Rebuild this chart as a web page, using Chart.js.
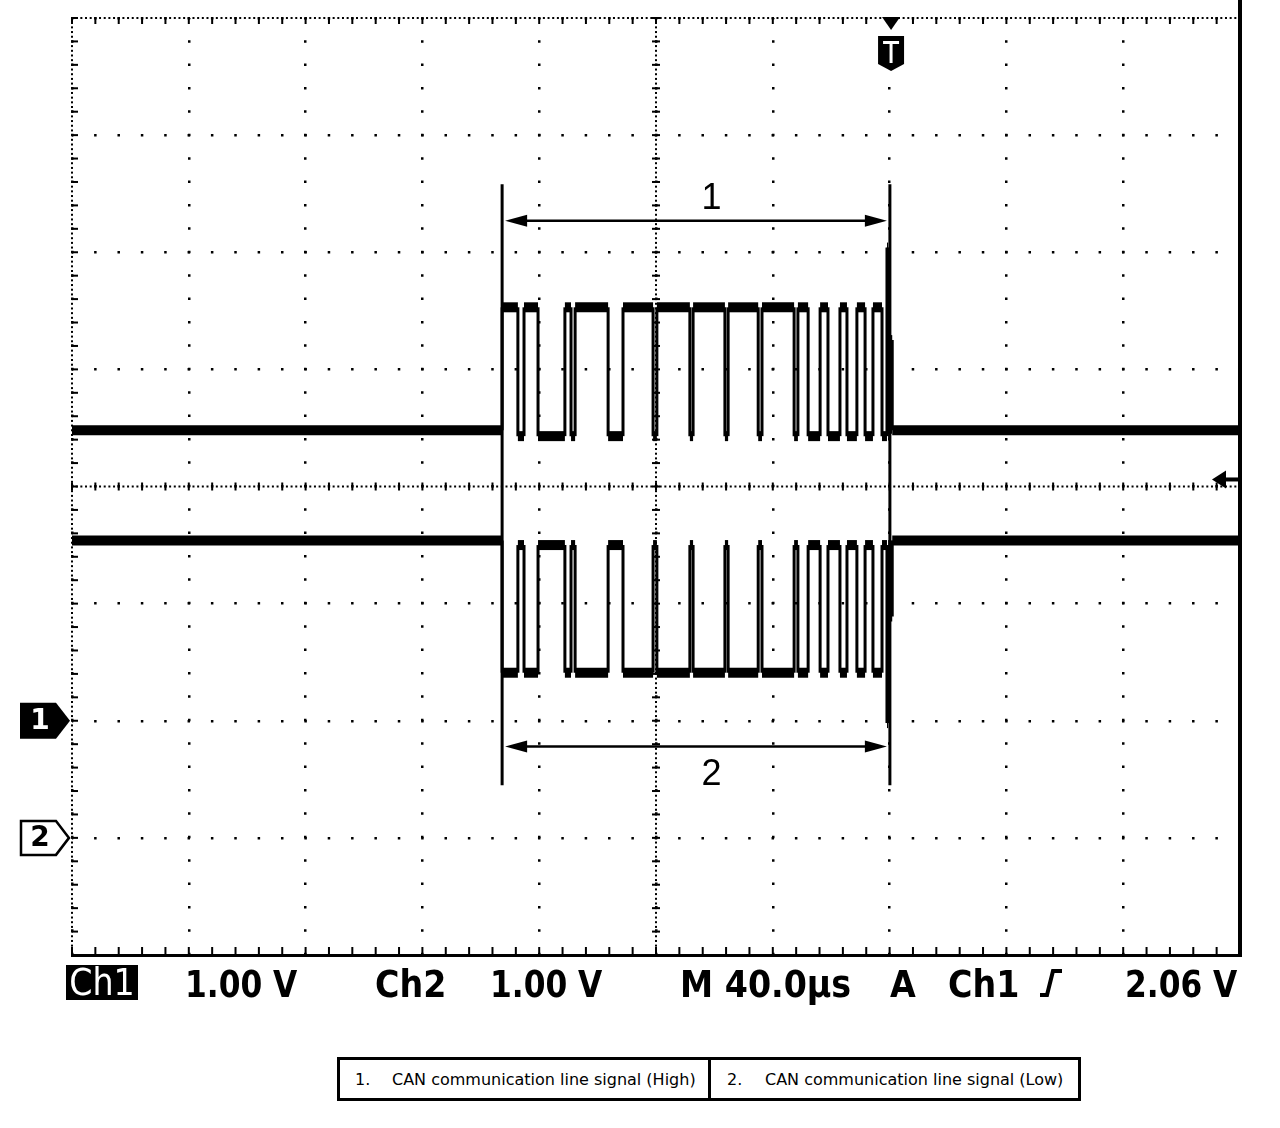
<!DOCTYPE html>
<html>
<head>
<meta charset="utf-8">
<script src="https://cdn.jsdelivr.net/npm/chart.js@4.4.1/dist/chart.umd.min.js"></script>
<style>
  body { margin: 0; background: #fff; width: 1280px; height: 1128px; position: relative; overflow: hidden; }
  #scope { position: absolute; left: 0; top: 0; }
  .st { position: absolute; top: 966px; font-family: 'DejaVu Sans Condensed', 'DejaVu Sans', sans-serif; font-stretch: condensed;
        font-weight: bold; font-size: 37px; line-height: 37px; color: #000; white-space: pre; }
  .nar { transform: scaleX(0.94); transform-origin: left center; }
  .inv { left: 66px; top: 965px; width: 72px; height: 35px; line-height: 35px; text-align: center; background: #000; color: #fff; font-weight: normal; }
  #slope { position: absolute; left: 1038px; top: 968px; }
  #legend { position: absolute; left: 337px; top: 1057px; width: 744px; height: 44px; box-sizing: border-box; border: 3px solid #000;
            font-family: 'DejaVu Sans', sans-serif; font-size: 16px; }
  #legend .sep { position: absolute; left: 368px; top: 0; width: 3px; height: 38px; background: #000; }
  #legend span { position: absolute; top: 10px; white-space: pre; }
</style>
</head>
<body>
<canvas id="scope" width="1280" height="962"></canvas>

<div class="st inv">Ch1</div>
<div class="st nar" style="left:185px">1.00 V</div>
<div class="st" style="left:375px">Ch2</div>
<div class="st nar" style="left:490px">1.00 V</div>
<div class="st" style="left:680px">M 40.0µs</div>
<div class="st" style="left:890px">A</div>
<div class="st" style="left:948px">Ch1</div>
<svg id="slope" width="26" height="30"><polyline points="2,27 9,27 15,3 24,3" fill="none" stroke="#000" stroke-width="4"/></svg>
<div class="st nar" style="left:1125px">2.06 V</div>

<div id="legend">
  <span style="left:15px">1.</span><span style="left:52px">CAN communication line signal (High)</span>
  <div class="sep"></div>
  <span style="left:387px">2.</span><span style="left:425px">CAN communication line signal (Low)</span>
</div>

<script>
// Horizontal: 40 us/div, 10 divisions. Vertical: 1 V/div, 8 divisions.
const timeMin = 0;
const timeMax = 400;
const timeStep = 40;
const divMin = -4;
const divMax = 4;

// Ground reference positions of each channel (in divisions from centre)
const ch1Offset = -2;
const ch2Offset = -3;

// Idle (recessive) bus levels in volts
const ch1Idle = 2.48;
const ch2Idle = 2.54;

// Edge times of the CAN frame (us from left of screen)
const edgeTimes = [147.3, 152.7, 154.8, 159.6, 168.8, 170.9, 172.3, 183.6, 188.7, 199.0,
                   200.3, 211.6, 212.7, 223.6, 224.7, 235.0, 236.3, 247.3, 248.6, 252.1,
                   256.2, 258.9, 263.0, 265.4, 268.8, 271.6, 274.3, 277.4, 279.1, 279.5,
                   280.3, 280.9];

// Level (V) after each edge
const canHigh = [3.53, 2.43, 3.53, 2.43, 3.53, 2.43, 3.53, 2.43, 3.53, 2.43,
                 3.53, 2.43, 3.53, 2.43, 3.53, 2.43, 3.53, 2.43, 3.53, 2.43,
                 3.53, 2.43, 3.53, 2.43, 3.53, 2.43, 3.53, 2.43, 4.04, 2.45,
                 3.25, 2.48];
const canLow = [1.41, 2.50, 1.41, 2.50, 1.41, 2.50, 1.41, 2.50, 1.41, 2.50,
                1.41, 2.50, 1.41, 2.50, 1.41, 2.50, 1.41, 2.50, 1.41, 2.50,
                1.41, 2.50, 1.41, 2.50, 1.41, 2.50, 1.41, 2.50, 0.98, 2.50,
                1.89, 2.54];

// Cursors, trigger
const cursorTimes = [147.3, 280.1];
const cursorSpan = [2.58, -2.55];
const arrowLevels = [2.27, -2.22];
const cursorLabels = ['1', '2'];
const labelLevels = [2.45, -2.46];
const labelTime = 219;
const trigTime = 280.5;
const trigVolts = 2.06;

// Build step trace points from edges
function buildTrace(idle, levels, offset) {
    const pts = [{ x: timeMin, y: idle + offset }];
    let prev = idle;
    edgeTimes.forEach((t, i) => {
        pts.push({ x: t, y: prev + offset });
        pts.push({ x: t, y: levels[i] + offset });
        prev = levels[i];
    });
    pts.push({ x: timeMax, y: prev + offset });
    return pts;
}

const traceStyle = {
    borderColor: '#000',
    borderWidth: 10,
    pointRadius: 0,
    fill: false,
    tension: 0,
    borderCapStyle: 'butt',
    segment: {
        borderWidth: c => c.p0.parsed.y === c.p1.parsed.y ? 10 : 3
    }
};

// Scope decorations: fine graticule, frame, cursors, markers
const scopeDecor = {
    id: 'scopeDecor',
    beforeDatasetsDraw(chart) {
        const { ctx, chartArea: a, scales } = chart;
        const cx = scales.x.getPixelForValue(200);
        const cy = scales.y.getPixelForValue(0);
        const minorW = (a.right - a.left) / 50;
        const minorH = (a.bottom - a.top) / 40;
        ctx.save();
        ctx.fillStyle = '#000';
        for (let k = 0; k <= 250; k++) {
            const px = a.left + k * minorW / 5;
            ctx.fillRect(px - 1, cy - 1, 2, 2);
            ctx.fillRect(px - 1, a.top - 1, 2, 2);
        }
        for (let k = 0; k <= 200; k++) {
            const py = a.top + k * minorH / 5;
            ctx.fillRect(cx - 1, py - 1, 2, 2);
            ctx.fillRect(a.left - 1, py - 1, 2, 2);
        }
        for (let k = 0; k <= 50; k++) {
            const px = a.left + k * minorW;
            ctx.fillRect(px - 1, cy - 4, 2, 8);
            ctx.fillRect(px - 1, a.top, 2, 6);
            ctx.fillRect(px - 1, a.bottom - 8, 2, 8);
        }
        for (let k = 0; k <= 40; k++) {
            const py = a.top + k * minorH;
            ctx.fillRect(cx - 4, py - 1, 8, 2);
            ctx.fillRect(a.left, py - 1, 6, 2);
        }
        // solid right + bottom frame
        ctx.fillRect(a.right - 2, 0, 4, a.bottom + 2);
        ctx.fillRect(a.left - 1, a.bottom - 1, a.right - a.left + 2, 3);
        ctx.restore();
    },
    afterDatasetsDraw(chart) {
        const { ctx, scales: { x: sx, y: sy } } = chart;
        ctx.save();
        ctx.strokeStyle = '#000';
        ctx.fillStyle = '#000';

        // cursor lines
        ctx.lineWidth = 3;
        cursorTimes.forEach(t => {
            const px = sx.getPixelForValue(t);
            ctx.beginPath();
            ctx.moveTo(px, sy.getPixelForValue(cursorSpan[0]));
            ctx.lineTo(px, sy.getPixelForValue(cursorSpan[1]));
            ctx.stroke();
        });

        // double arrows with labels
        const x1 = sx.getPixelForValue(cursorTimes[0]) + 3;
        const x2 = sx.getPixelForValue(cursorTimes[1]) - 3;
        arrowLevels.forEach((lv, i) => {
            const py = sy.getPixelForValue(lv);
            ctx.lineWidth = 2.5;
            ctx.beginPath();
            ctx.moveTo(x1 + 10, py);
            ctx.lineTo(x2 - 10, py);
            ctx.stroke();
            ctx.beginPath();
            ctx.moveTo(x1, py); ctx.lineTo(x1 + 22, py - 6); ctx.lineTo(x1 + 22, py + 6);
            ctx.closePath(); ctx.fill();
            ctx.beginPath();
            ctx.moveTo(x2, py); ctx.lineTo(x2 - 22, py - 6); ctx.lineTo(x2 - 22, py + 6);
            ctx.closePath(); ctx.fill();
            ctx.font = '36px "Liberation Sans", sans-serif';
            ctx.textAlign = 'center';
            ctx.textBaseline = 'middle';
            ctx.fillText(cursorLabels[i], sx.getPixelForValue(labelTime), sy.getPixelForValue(labelLevels[i]));
        });

        // trigger position marker (T)
        const tx = sx.getPixelForValue(trigTime);
        ctx.beginPath();
        ctx.moveTo(tx - 9, 17); ctx.lineTo(tx + 9, 17); ctx.lineTo(tx, 30);
        ctx.closePath(); ctx.fill();
        ctx.beginPath();
        ctx.moveTo(tx - 13, 36); ctx.lineTo(tx + 13, 36); ctx.lineTo(tx + 13, 64);
        ctx.lineTo(tx, 71); ctx.lineTo(tx - 13, 64);
        ctx.closePath(); ctx.fill();
        ctx.fillStyle = '#fff';
        ctx.fillRect(tx - 8, 41, 16, 3);
        ctx.fillRect(tx - 1.5, 41, 3, 22);

        // trigger level marker (right)
        ctx.fillStyle = '#000';
        const ty = sy.getPixelForValue(trigVolts + ch1Offset);
        ctx.beginPath();
        ctx.moveTo(1212, ty); ctx.lineTo(1226, ty - 9); ctx.lineTo(1226, ty + 9);
        ctx.closePath(); ctx.fill();
        ctx.fillRect(1224, ty - 2, 16, 4);

        // channel ground markers (left)
        const g1 = sy.getPixelForValue(ch1Offset);
        const g2 = sy.getPixelForValue(ch2Offset);
        ctx.beginPath();
        ctx.moveTo(20, g1 - 18); ctx.lineTo(56, g1 - 18); ctx.lineTo(70, g1);
        ctx.lineTo(56, g1 + 18); ctx.lineTo(20, g1 + 18);
        ctx.closePath(); ctx.fill();
        ctx.fillStyle = '#fff';
        ctx.font = 'bold 28px "DejaVu Sans", sans-serif';
        ctx.textAlign = 'center';
        ctx.textBaseline = 'middle';
        ctx.fillText('1', 40, g1 + 1);

        ctx.fillStyle = '#fff';
        ctx.lineWidth = 2.5;
        ctx.beginPath();
        ctx.moveTo(21, g2 - 17); ctx.lineTo(56, g2 - 17); ctx.lineTo(69, g2);
        ctx.lineTo(56, g2 + 17); ctx.lineTo(21, g2 + 17);
        ctx.closePath(); ctx.fill(); ctx.stroke();
        ctx.fillStyle = '#000';
        ctx.fillText('2', 40, g2 + 1);
        ctx.restore();
    }
};

const chart = new Chart(document.getElementById('scope'), {
    type: 'line',
    data: {
        datasets: [
            Object.assign({ label: 'CAN High', data: buildTrace(ch1Idle, canHigh, ch1Offset) }, traceStyle),
            Object.assign({ label: 'CAN Low', data: buildTrace(ch2Idle, canLow, ch2Offset) }, traceStyle)
        ]
    },
    options: {
        responsive: false,
        animation: false,
        devicePixelRatio: 1,
        parsing: false,
        layout: { padding: { left: 72, top: 18, right: 40, bottom: 7 } },
        plugins: { legend: { display: false }, tooltip: { enabled: false } },
        scales: {
            x: {
                type: 'linear', min: timeMin, max: timeMax,
                ticks: { display: false, stepSize: timeStep },
                grid: { color: '#000', lineWidth: 2.5, drawTicks: false },
                border: { display: false, dash: [2.5, 20.9], dashOffset: 1.25 }
            },
            y: {
                type: 'linear', min: divMin, max: divMax,
                ticks: { display: false, stepSize: 1 },
                grid: { color: '#000', lineWidth: 2.5, drawTicks: false },
                border: { display: false, dash: [2.5, 20.86], dashOffset: 1.25 }
            }
        }
    },
    plugins: [scopeDecor]
});
</script>
</body>
</html>
